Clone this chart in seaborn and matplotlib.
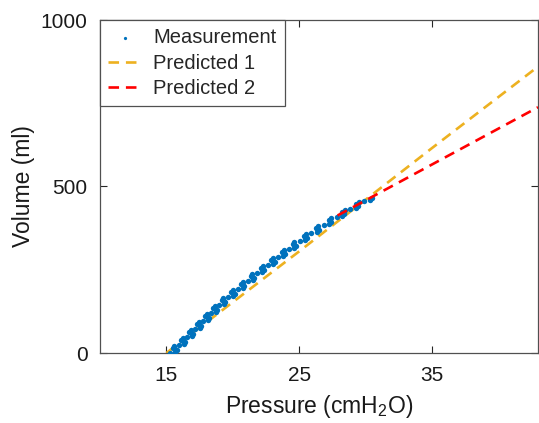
import matplotlib
matplotlib.use("Agg")
import matplotlib.pyplot as plt
import seaborn as sns
import pandas as pd

meas_pressure = [
    15.30, 15.66, 15.77, 15.64, 15.50, 15.61, 15.97, 16.33, 16.43, 16.28,
    16.13, 16.23, 16.58, 16.93, 17.03, 16.88, 16.73, 16.83, 17.18, 17.53,
    17.63, 17.48, 17.33, 17.43, 17.78, 18.13, 18.23, 18.08, 17.93, 18.03,
    18.38, 18.73, 18.83, 18.68, 18.53, 18.63, 18.98, 19.34, 19.45, 19.31,
    19.18, 19.29, 19.66, 20.02, 20.14, 20.00, 19.88, 20.00, 20.38, 20.75,
    20.88, 20.75, 20.63, 20.75, 21.12, 21.49, 21.61, 21.48, 21.36, 21.48,
    21.85, 22.22, 22.35, 22.23, 22.12, 22.25, 22.63, 23.02, 23.15, 23.03,
    22.92, 23.05, 23.43, 23.82, 23.95, 23.83, 23.72, 23.85, 24.23, 24.62,
    24.75, 24.63, 24.52, 24.65, 25.04, 25.44, 25.58, 25.48, 25.38, 25.53,
    25.93, 26.33, 26.48, 26.38, 26.29, 26.44, 26.85, 27.25, 27.42, 27.33,
    27.25, 27.42, 27.83, 28.25, 28.42, 28.35, 28.27, 28.45, 28.87, 29.29,
    29.47, 29.39, 29.32, 29.49, 29.91, 30.34, 30.52,
]
meas_volume = [
    0, 4, 8, 12, 16, 20, 24, 28, 32, 36,
    40, 44, 48, 52, 56, 60, 64, 68, 72, 76,
    80, 84, 88, 92, 96, 100, 104, 108, 112, 116,
    120, 124, 128, 132, 136, 140, 144, 148, 152, 156,
    160, 164, 168, 172, 176, 180, 184, 188, 192, 196,
    200, 204, 208, 212, 216, 220, 224, 228, 232, 236,
    240, 244, 248, 252, 256, 260, 264, 268, 272, 276,
    280, 284, 288, 292, 296, 300, 304, 308, 312, 316,
    320, 324, 328, 332, 336, 340, 344, 348, 352, 356,
    360, 364, 368, 372, 376, 380, 384, 388, 392, 396,
    400, 404, 408, 412, 416, 420, 424, 428, 432, 436,
    440, 444, 448, 452, 456, 460, 464,
]

pred1_pressure = [15, 25, 35, 43]
pred1_volume = [0, 305, 615, 860]

pred2_pressure = [27.9, 43]
pred2_volume = [413, 738]

x_ticks = [15, 25, 35]
y_ticks = [0, 500, 1000]

sns.set_style("ticks")
plt.rcParams['font.family'] = ['Liberation Sans', 'DejaVu Sans']
plt.rcParams['mathtext.default'] = 'regular'

meas = pd.DataFrame({'p': meas_pressure, 'v': meas_volume})
p1 = pd.DataFrame({'p': pred1_pressure, 'v': pred1_volume})
p2 = pd.DataFrame({'p': pred2_pressure, 'v': pred2_volume})

fig = plt.figure(figsize=(5.39, 4.23), dpi=100)
ax = fig.add_axes([100 / 539, 70 / 423, 438 / 539, 333 / 423])

sns.scatterplot(data=meas, x='p', y='v', ax=ax, color='#0072BD', s=15,
                linewidth=0, label='Measurement', zorder=3)
sns.lineplot(data=p1, x='p', y='v', ax=ax, color='#EDB120', linewidth=1.9,
             linestyle='--', label='Predicted 1', zorder=2)
ax.lines[-1].set_dashes((4, 2.6))
sns.lineplot(data=p2, x='p', y='v', ax=ax, color='#FF0000', linewidth=1.9,
             linestyle='--', label='Predicted 2', zorder=4)
ax.lines[-1].set_dashes((4, 2.6))

ax.set_xlim(10, 43)
ax.set_ylim(0, 1000)
ax.set_xticks(x_ticks)
ax.set_yticks(y_ticks)
ax.tick_params(direction='in', length=5, width=0.8, color='#262626',
               labelsize=15, labelcolor='#1a1a1a', top=True, right=True,
               pad=9)
for sp in ax.spines.values():
    sp.set_visible(True)
    sp.set_color('#505050')
    sp.set_linewidth(0.9)

ax.set_xlabel('Pressure (cmH$_2$O)', fontsize=16.5, color='#1a1a1a', labelpad=6)
ax.set_ylabel('Volume (ml)', fontsize=16.5, color='#1a1a1a', labelpad=4)

leg = ax.legend(loc='upper left', borderaxespad=0, fontsize=14.5,
                frameon=True, fancybox=False, markerscale=0.6,
                handlelength=1.65, handletextpad=0.6, borderpad=0.4,
                labelspacing=0.33)
leg.get_frame().set_edgecolor('#505050')
leg.get_frame().set_linewidth(0.9)
leg.get_frame().set_alpha(1)

fig.savefig('out.png', dpi=100)
